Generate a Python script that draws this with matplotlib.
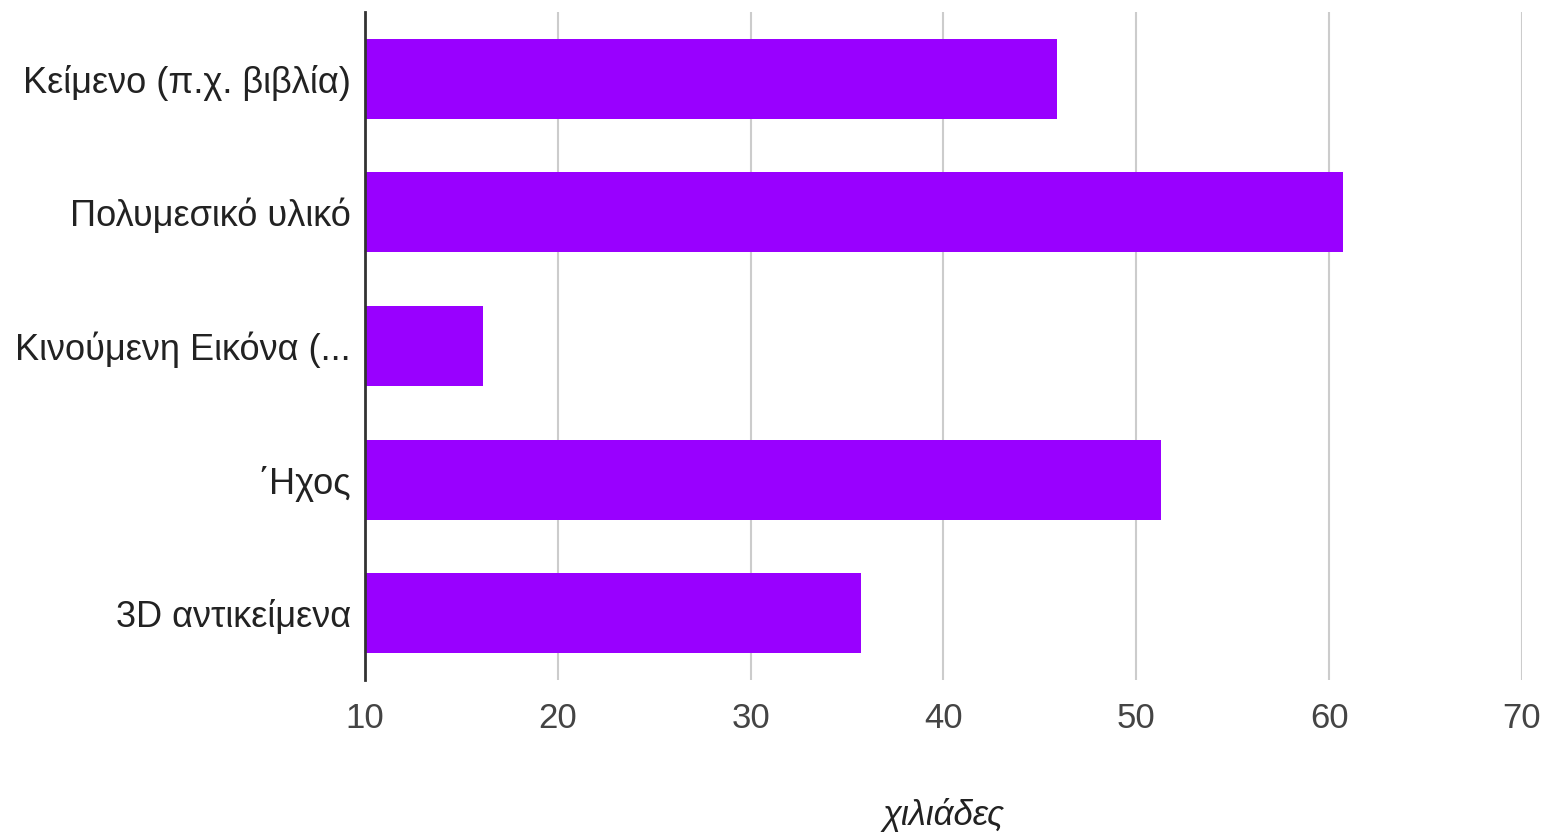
import matplotlib.pyplot as plt

plt.rcParams['font.family'] = ['Liberation Sans', 'DejaVu Sans']

categories = ['Κείμενο (π.χ. βιβλία)', 'Πολυμεσικό υλικό', 'Κινούμενη Εικόνα (...',
              '΄Ηχος', '3D αντικείμενα']
values = [45.9, 60.7, 16.1, 51.3, 35.7]
xticks = [10, 20, 30, 40, 50, 60, 70]

fig = plt.figure(figsize=(15.51, 8.33), dpi=100)
ax = fig.add_axes([0.2353, 0.1837, 0.746, 0.8019])

ypos = list(range(len(categories)))
ax.barh(ypos, [v - 10 for v in values], left=10, height=0.6, color='#9900ff', zorder=3)

ax.set_xlim(10, 70)
ax.set_ylim(len(categories) - 0.5, -0.5)
ax.set_xticks(xticks)
ax.set_xticklabels([str(t) for t in xticks], fontsize=25, color='#444444')
ax.set_yticks(ypos)
ax.set_yticklabels(categories, fontsize=26, color='#222222')
ax.tick_params(axis='y', length=0, pad=10)
ax.tick_params(axis='x', length=0, pad=16)

ax.grid(axis='x', color='#cccccc', linewidth=1.5, zorder=0)
for s in ['top', 'right', 'bottom']:
    ax.spines[s].set_visible(False)
ax.spines['left'].set_color('#333333')
ax.spines['left'].set_linewidth(2)
ax.spines['left'].set_zorder(4)

ax.set_xlabel('χιλιάδες', fontsize=25, style='italic', color='#222222', labelpad=45)

fig.savefig('out.png', dpi=100)
